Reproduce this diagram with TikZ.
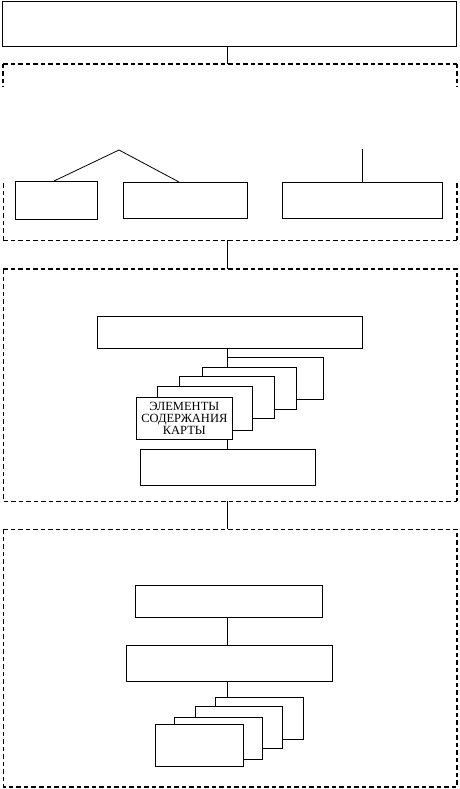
\documentclass[tikz,border=0pt]{standalone}
\usepackage{fontspec}
\setmainfont{Liberation Serif}
\begin{document}
\begin{tikzpicture}[x=1pt,y=-1pt,
  box/.style={draw,line width=0.8pt,fill=white,inner sep=0pt,outer sep=0pt,anchor=north west},
  link/.style={line width=0.8pt},
  dashbox/.style={line width=1.6pt,dash pattern=on 4.5pt off 3pt},
  dashthin/.style={line width=0.9pt,dash pattern=on 4.5pt off 3pt}]
\useasboundingbox (0,0) rectangle (459,789);
\fill[white] (0,0) rectangle (459,789);
\coordinate (axis) at (227,0);
% top box
\node[box,minimum width=454pt,minimum height=45pt] (top) at (2,1) {};
% dashed block 1 (frame drawn with gaps at the sides)
\node[inner sep=0pt,outer sep=0pt,minimum width=454pt,minimum height=176pt,anchor=north west] (d1) at (3,64) {};
\draw[dashbox] (d1.north west) -- (d1.north east);
\draw[dashthin] (d1.south west) -- (d1.south east);
\draw[dashbox] (d1.north west) -- ++(0,23);
\draw[dashbox] (d1.north east) -- ++(0,23);
\draw[dashthin] (d1.south west) -- ++(0,-59);
\draw[dashbox] (d1.south east) -- ++(0,-59);
\node[box,minimum width=82pt,minimum height=38pt] (a) at (15,181) {};
\node[box,minimum width=124pt,minimum height=36pt] (b) at (123,182) {};
\node[box,minimum width=160pt,minimum height=36pt] (c) at (282,182) {};
\coordinate (apex) at (119,150);
\coordinate (cend) at (362,149);
\draw[link] (a.north west -| 54,0) -- (apex) -- (b.north west -| 179,0);
\draw[link] (cend) -- (c.north -| cend);
\draw[link] (top.south -| axis) -- (d1.north -| axis);
% dashed block 2
\node[inner sep=0pt,outer sep=0pt,minimum width=454pt,minimum height=232pt,anchor=north west] (d2) at (3,269) {};
\draw[dashbox] (d2.north west) -- (d2.north east) -- (d2.south east);
\draw[dashthin] (d2.north west) -- (d2.south west) -- (d2.south east);
\draw[link] (d1.south -| axis) -- (d2.north -| axis);
\node[box,minimum width=265pt,minimum height=32pt] (dbox) at (97,316) {};
\node[box,minimum width=96pt,minimum height=42pt] (k4) at (227,357) {};
\node[box,minimum width=94.5pt,minimum height=41.7pt] (k3) at (202.3,367.3) {};
\node[box,minimum width=94.6pt,minimum height=42.3pt] (k2) at (179.7,376) {};
\node[box,minimum width=95.4pt,minimum height=43.3pt] (k1) at (157.3,386.7) {};
\node[box,minimum width=95.3pt,minimum height=42pt] (k0) at (136.7,397.3) {};
\node[inner sep=0pt,align=center,font=\fontsize{12.5pt}{12pt}\selectfont] (ktext) at (k0.center) {ЭЛЕМЕНТЫ\\СОДЕРЖАНИЯ\\КАРТЫ};
\node[box,minimum width=175pt,minimum height=36.3pt] (ebox) at (140.7,449) {};
\draw[link] (dbox.south -| axis) -- (k4.north west);
\draw[link] (k0.south -| axis) -- (ebox.north -| axis);
% dashed block 3
\node[inner sep=0pt,outer sep=0pt,minimum width=454pt,minimum height=257.5pt,anchor=north west] (d3) at (3,529.3) {};
\draw[dashbox] (d3.north west) -- (d3.north east) -- (d3.south east) -- (d3.south west);
\draw[dashthin] (d3.north west) -- (d3.south west);
\draw[link] (d2.south -| axis) -- (d3.north -| axis);
\node[box,minimum width=187.4pt,minimum height=32pt] (fbox) at (135.3,585.3) {};
\node[box,minimum width=206.4pt,minimum height=36pt] (gbox) at (126.3,645.3) {};
\node[box,minimum width=88pt,minimum height=42.3pt] (m3) at (215.3,697) {};
\node[box,minimum width=87.7pt,minimum height=42pt] (m2) at (195,706.3) {};
\node[box,minimum width=88.4pt,minimum height=42.4pt] (m1) at (174.3,717.3) {};
\node[box,minimum width=88.4pt,minimum height=42pt] (m0) at (155.3,724.3) {};
\draw[link] (fbox.south -| axis) -- (gbox.north -| axis);
\draw[link] (gbox.south -| axis) -- (m3.north -| axis);
\end{tikzpicture}
\end{document}
